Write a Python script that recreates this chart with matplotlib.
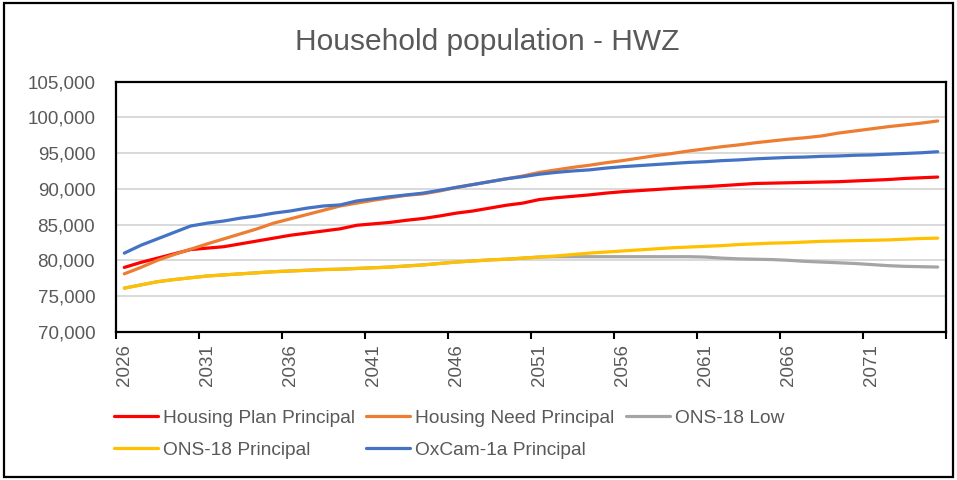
import matplotlib
matplotlib.use("Agg")
import matplotlib.pyplot as plt
from matplotlib.patches import Rectangle
from matplotlib.ticker import FuncFormatter

plt.rcParams['font.family'] = ['Liberation Sans', 'DejaVu Sans']

years = list(range(2026, 2076))

housing_plan = [79000, 79700, 80300, 80900, 81500, 81700, 81900, 82300, 82700, 83100,
                83500, 83800, 84100, 84400, 84900, 85100, 85300, 85600, 85850, 86200,
                86600, 86900, 87300, 87700, 88000, 88500, 88750, 88950, 89150, 89400,
                89600, 89750, 89900, 90050, 90200, 90300, 90450, 90600, 90750, 90800,
                90850, 90900, 90950, 91000, 91100, 91200, 91300, 91450, 91550, 91650]

housing_need = [78100, 79000, 80000, 80800, 81550, 82300, 83000, 83700, 84400, 85200,
                85800, 86400, 87000, 87600, 88000, 88400, 88750, 89100, 89300, 89700,
                90200, 90600, 91000, 91400, 91800, 92300, 92650, 93000, 93300, 93650,
                93950, 94300, 94650, 94950, 95300, 95600, 95900, 96150, 96450, 96700,
                96950, 97150, 97400, 97800, 98100, 98400, 98700, 98950, 99200, 99500]

ons18_low = [76100, 76550, 77000, 77300, 77550, 77800, 77950, 78100, 78250, 78400,
             78500, 78600, 78700, 78750, 78850, 78950, 79050, 79200, 79350, 79550,
             79750, 79900, 80050, 80150, 80300, 80450, 80500, 80500, 80500, 80500,
             80500, 80500, 80500, 80500, 80500, 80450, 80300, 80200, 80150, 80100,
             80000, 79850, 79750, 79650, 79550, 79400, 79250, 79150, 79100, 79050]

ons18_principal = [76100, 76550, 77000, 77300, 77550, 77800, 77950, 78100, 78250, 78400,
                   78500, 78600, 78700, 78750, 78850, 78950, 79050, 79200, 79350, 79550,
                   79750, 79900, 80050, 80150, 80300, 80450, 80600, 80800, 81000, 81150,
                   81300, 81450, 81600, 81750, 81850, 81950, 82050, 82200, 82300, 82400,
                   82450, 82550, 82650, 82700, 82750, 82800, 82850, 82950, 83050, 83100]

oxcam_1a = [81000, 82100, 83000, 83900, 84800, 85200, 85500, 85900, 86200, 86600,
            86900, 87300, 87600, 87750, 88300, 88600, 88900, 89150, 89400, 89800,
            90200, 90600, 91000, 91400, 91700, 92050, 92300, 92500, 92650, 92900,
            93100, 93250, 93400, 93550, 93700, 93800, 93950, 94050, 94200, 94300,
            94400, 94450, 94550, 94600, 94700, 94750, 94850, 94950, 95050, 95200]

series = [
    ("Housing Plan Principal", housing_plan, "#FF0000"),
    ("Housing Need Principal", housing_need, "#ED7D31"),
    ("ONS-18 Low", ons18_low, "#A5A5A5"),
    ("ONS-18 Principal", ons18_principal, "#FFC000"),
    ("OxCam-1a Principal", oxcam_1a, "#4472C4"),
]

title = "Household population - HWZ"
y_min, y_max, y_step = 70000, 105000, 5000
label_every = 5

TXT = "#595959"
W, H = 957, 480
fig = plt.figure(figsize=(W / 100, H / 100), dpi=100)
ax = fig.add_axes([116 / W, 1 - 331.7 / H, (946 - 116) / W, (331.7 - 81.7) / H])

handles = {}
for name, vals, col in series:
    ln, = ax.plot(years, vals, color=col, lw=2.3, solid_capstyle='round', label=name, zorder=3)
    handles[name] = ln

ax.set_xlim(years[0] - 0.5, years[-1] + 0.5)
ax.set_ylim(y_min, y_max)
ax.set_yticks(range(y_min, y_max + 1, y_step))
ax.yaxis.set_major_formatter(FuncFormatter(lambda v, p: f"{int(v):,}"))
ax.tick_params(axis='y', length=0, pad=15, labelsize=13.5, labelcolor=TXT)
ax.grid(axis='y', color='#D9D9D9', lw=1.4, zorder=0)

# tick marks at category boundaries, labels at category centres
bounds = [years[0] - 0.5 + k for k in range(0, len(years) + 1, label_every)]
ax.set_xticks(bounds)
ax.set_xticklabels([])
ax.tick_params(axis='x', which='major', length=5, width=1.5, color='black', direction='out')
lab_years = years[::label_every]
ax.set_xticks(lab_years, minor=True)
ax.set_xticklabels([str(y) for y in lab_years], minor=True, rotation=90)
ax.tick_params(axis='x', which='minor', length=0, pad=9, labelsize=13.5, labelcolor=TXT)

for s in ax.spines.values():
    s.set_color('black')
    s.set_linewidth(1.6)

fig.text(487 / W, 1 - 42 / H, title, ha='center', va='center', fontsize=21.5, color=TXT)

order = ["Housing Plan Principal", "ONS-18 Principal", "Housing Need Principal",
         "OxCam-1a Principal", "ONS-18 Low"]
leg = fig.legend([handles[n] for n in order], order, ncol=3, loc='upper left',
                 bbox_to_anchor=(108 / W, 1 - 404 / H), frameon=False,
                 fontsize=13.8, labelcolor=TXT, handlelength=2.3, handletextpad=0.25,
                 columnspacing=0.6, labelspacing=0.75, borderaxespad=0, borderpad=0.3)

fig.patches.append(Rectangle((4 / W, 3 / H), (953 - 4) / W, (477 - 3) / H,
                             transform=fig.transFigure, fill=False, ec='black', lw=1.6))

fig.savefig("out.png", dpi=100)
